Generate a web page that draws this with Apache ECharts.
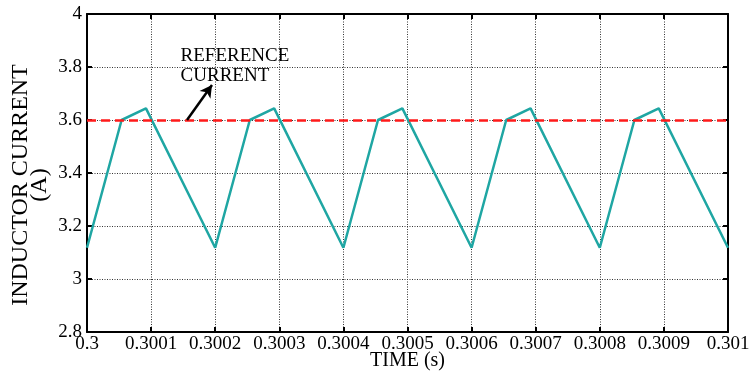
<!DOCTYPE html>
<html>
<head>
<meta charset="utf-8">
<script src="https://cdn.jsdelivr.net/npm/echarts@6/dist/echarts.min.js"></script>
<style>html,body{margin:0;padding:0;background:#fff}#c{width:752px;height:374px}</style>
</head>
<body>
<div id="c"></div>
<script>
const time = [0.3, 0.300054, 0.300092, 0.3002, 0.300254, 0.300292, 0.3004, 0.300454, 0.300492, 0.3006, 0.300654, 0.300692, 0.3008, 0.300854, 0.300892, 0.301];
const current = [3.118, 3.6, 3.644, 3.118, 3.6, 3.644, 3.118, 3.6, 3.644, 3.118, 3.6, 3.644, 3.118, 3.6, 3.644, 3.118];
const referenceCurrent = 3.6;
const arrowFrom = [0.300156, 3.6];
const arrowTo = [0.300195, 3.732];
const annotationText = 'REFERENCE\nCURRENT';
const annotationAt = [0.300146, 3.88];

const FONT = '"Liberation Serif", "Times New Roman", serif';
const chart = echarts.init(document.getElementById('c'));
const fmtX = v => String(+v.toFixed(4));
const fmtY = v => String(+v.toFixed(1));
const base = {
  axisLine: {show: true, lineStyle: {color: '#000', width: 2}},
  axisTick: {show: true, inside: true, length: 5, lineStyle: {color: '#000', width: 2}},
};
chart.setOption({
  animation: false,
  grid: {left: 87, right: 24, top: 14, bottom: 42, outerBoundsMode: 'none', containLabel: false},
  xAxis: [
    Object.assign({}, base, {
      type: 'value', min: 0.3, max: 0.301, interval: 0.0001,
      name: 'TIME (s)', nameLocation: 'middle', nameGap: 19, nameMoveOverlap: false,
      nameTextStyle: {fontFamily: FONT, fontSize: 20, color: '#000'},
      axisLabel: {formatter: fmtX, fontFamily: FONT, fontSize: 19, color: '#000', margin: 3},
      splitLine: {show: true, lineStyle: {color: '#333', type: [1, 1.5], width: 1}}
    }),
    Object.assign({}, base, {
      type: 'value', min: 0.3, max: 0.301, interval: 0.0001, position: 'top',
      axisLabel: {show: false}, splitLine: {show: false}
    })
  ],
  yAxis: [
    Object.assign({}, base, {
      type: 'value', min: 2.8, max: 4, interval: 0.2,
      name: 'INDUCTOR CURRENT\n(A)', nameLocation: 'middle', nameGap: 38, nameMoveOverlap: false,
      nameTextStyle: {fontFamily: FONT, fontSize: 24, lineHeight: 19, color: '#000', padding: [0, 24, 0, 0]},
      axisLabel: {formatter: fmtY, fontFamily: FONT, fontSize: 19, color: '#000', margin: 5},
      splitLine: {show: true, lineStyle: {color: '#333', type: [1, 1.5], width: 1}}
    }),
    Object.assign({}, base, {
      type: 'value', min: 2.8, max: 4, interval: 0.2, position: 'right',
      axisLabel: {show: false}, splitLine: {show: false}
    })
  ],
  series: [
    {
      type: 'line', data: time.map((t, i) => [t, current[i]]),
      symbol: 'none', lineStyle: {color: '#1fa6a3', width: 2.5}, z: 3,
      markLine: {
        silent: true, symbol: 'none', animation: false,
        label: {show: false},
        lineStyle: {color: '#ff1a1a', type: [9, 5], width: 2.5},
        data: [{yAxis: referenceCurrent}]
      }
    },
    {
      type: 'line', data: [], z: 5,
      markLine: {
        silent: true, animation: false, label: {show: false},
        symbol: ['none', 'arrow'], symbolSize: [10, 12],
        lineStyle: {color: '#000', type: 'solid', width: 2.5},
        data: [[{coord: arrowFrom}, {coord: arrowTo}]]
      }
    }
  ]
});
const p = chart.convertToPixel({xAxisIndex: 0, yAxisIndex: 0}, annotationAt);
chart.setOption({
  graphic: [{
    type: 'text', x: p[0], y: p[1], z: 10,
    style: {text: annotationText, fontFamily: FONT, fontSize: 19, lineHeight: 20, fill: '#000', textVerticalAlign: 'top'}
  }]
});
</script>
</body>
</html>
